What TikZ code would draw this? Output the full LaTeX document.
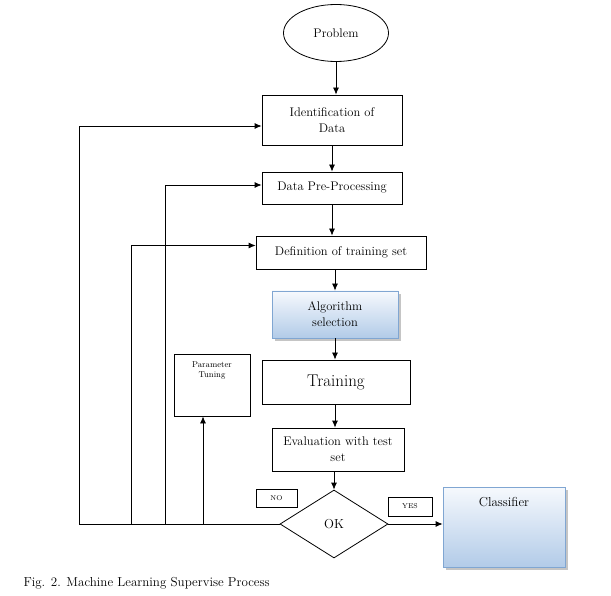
\documentclass[tikz,border=0pt]{standalone}
\usepackage{amsmath}
\usetikzlibrary{shapes.geometric,shadows,arrows.meta}
\definecolor{paleblue}{RGB}{246,249,253}
\definecolor{deepblue}{RGB}{178,203,232}
\definecolor{edgeblue}{RGB}{128,166,210}
\begin{document}
\begin{tikzpicture}[x=1pt,y=-1pt,
  box/.style={draw, line width=0.8pt, align=center, inner sep=1pt, font=\fontsize{12.5}{16}\selectfont},
  bluebox/.style={draw=edgeblue, line width=0.8pt, align=center, inner sep=1pt,
    top color=paleblue, bottom color=deepblue,
    drop shadow={shadow xshift=3pt, shadow yshift=-3pt, fill=black!45},
    font=\fontsize{12.5}{16}\selectfont},
  tag/.style={draw, line width=0.8pt, font=\fontsize{7}{8}\selectfont},
  arr/.style={-{Latex[length=7pt,width=6pt]}, line width=0.8pt},
  line/.style={line width=0.8pt}]

 \useasboundingbox (0,0) rectangle (611,596);

 % main column
 \node[draw, ellipse, line width=0.8pt, minimum width=105, minimum height=57,
   font=\fontsize{12.5}{16}\selectfont] (problem) at (336,33) {Problem};
 \node[box, minimum width=140, minimum height=50] (ident) at (332,120) {Identification of\\Data};
 \node[box, minimum width=140, minimum height=32] (prep) at (332,188) {Data Pre-Processing};
 \node[box, minimum width=170, minimum height=33] (deftrain) at (341,252.5) {Definition of training set};
 \node[bluebox, minimum width=126, minimum height=47] (algo) at (335,314.5) {Algorithm\\selection};
 \node[box, minimum width=148, minimum height=44, font=\fontsize{17}{20}\selectfont] (train) at (336,382) {Training};
 \node[box, minimum width=132, minimum height=43] (eval) at (338,449.5) {Evaluation with test\\set};
 \node[draw, diamond, line width=0.8pt, minimum width=108, minimum height=68, inner sep=0pt,
   font=\fontsize{13}{16}\selectfont] (ok) at (334,524) {OK};

 % side boxes
 \node[box, minimum width=76, minimum height=62] (tune) at (212,385) {};
 \node[below, align=center, font=\fontsize{8.5}{10}\selectfont, yshift=-5pt] (tunetext) at (tune.north) {Parameter\\Tuning};
 \node[bluebox, minimum width=122, minimum height=80] (classifier) at (504,527) {};
 \node[below, font=\fontsize{13}{16}\selectfont, yshift=-7pt] (classtext) at (classifier.north) {Classifier};
 \node[tag, minimum width=41, minimum height=18] (no) at (276.5,498) {NO};
 \node[tag, minimum width=44, minimum height=19] (yes) at (410,506.5) {YES};

 % flow
 \draw[arr] (problem.south) -- (problem.south |- ident.north);
 \draw[arr] (ident) -- (prep);
 \draw[arr] (prep.south) -- (prep.south |- deftrain.north);
 \draw[arr] (deftrain.south -| algo.north) -- (algo.north);
 \draw[arr] (algo) -- (algo.south |- train.north);
 \draw[arr] (train.south -| algo.south) -- (algo.south |- eval.north);
 \draw[arr] (eval.south -| ok.north) -- (ok.north);
 \draw[arr] (ok.east) -- (ok.east -| classifier.west);

 % feedback loops
 \coordinate (loopA) at (79,524);
 \coordinate (loopB) at (131,524);
 \coordinate (loopC) at (165,524);
 \coordinate (loopD) at (203,524);
 \draw[line] (ok.west) -- (loopA);
 \draw[arr] (loopA) |- ([yshift=-6pt]ident.west);
 \draw[arr] (loopB) |- ([yshift=7pt]deftrain.west);
 \draw[arr] (loopC) |- ([yshift=3pt]prep.west);
 \draw[arr] (loopD) -- (loopD |- tune.south);

 \node[anchor=west, font=\fontsize{13}{16}\selectfont] (caption) at (20,583) {Fig. 2. Machine Learning Supervise Process};
\end{tikzpicture}
\end{document}
